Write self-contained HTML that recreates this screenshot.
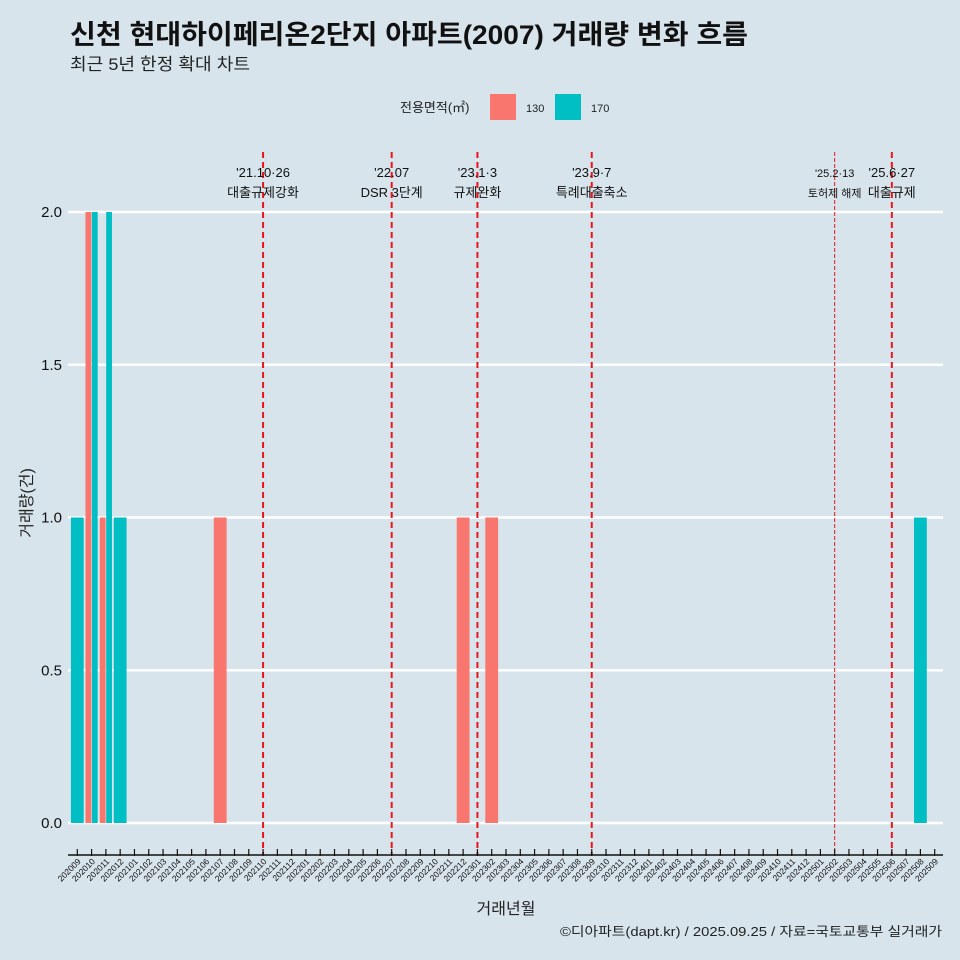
<!DOCTYPE html>
<html><head><meta charset="utf-8"><style>
body{margin:0;background:#d7e4eb;}
svg{display:block;font-family:"Liberation Sans","Noto Sans CJK KR",sans-serif;}
</style></head><body>
<svg id="chart" width="960" height="960" viewBox="0 0 960 960">
<rect width="960" height="960" fill="#d7e4eb"/>
<text x="70" y="44" font-size="27" font-weight="bold" fill="#111" textLength="678" lengthAdjust="spacingAndGlyphs">신천 현대하이페리온2단지 아파트(2007) 거래량 변화 흐름</text>
<text x="70" y="70" font-size="17" fill="#222" textLength="180" lengthAdjust="spacingAndGlyphs">최근 5년 한정 확대 차트</text>
<g>
<text x="400" y="112" font-size="13" fill="#222">전용면적(㎡)</text>
<rect x="490" y="94" width="26" height="26" fill="#f8766d"/>
<text x="526" y="112" font-size="11" fill="#222">130</text>
<rect x="555" y="94" width="26" height="26" fill="#00bfc4"/>
<text x="591" y="112" font-size="11" fill="#222">170</text>
</g>
<g id="grid"></g><g id="bars"></g><g id="events"></g><g id="axis"></g>
<text x="32" y="503" font-size="16" fill="#222" transform="rotate(-90 32 503)" text-anchor="middle">거래량(건)</text>
<text x="506" y="914" font-size="16" fill="#222" text-anchor="middle">거래년월</text>
<text x="942" y="936" font-size="13" fill="#222" text-anchor="end" textLength="382" lengthAdjust="spacingAndGlyphs">©디아파트(dapt.kr) / 2025.09.25 / 자료=국토교통부 실거래가</text>
</svg>
<script>
const months=[];for(let y=2020,m=9;y<2025||(y===2025&&m<=9);){months.push(''+y+String(m).padStart(2,'0'));m++;if(m>12){m=1;y++;}}
const sizes=['130','170'];
const barMonths=['202009','202010','202010','202011','202011','202012','202107','202212','202302','202508'];
const barSizes=['170','130','170','130','170','170','130','130','130','170'];
const barValues=[1,2,2,1,2,1,1,1,1,1];
const yTicks=[0,0.5,1,1.5,2];
const yTickLabels=['0.0','0.5','1.0','1.5','2.0'];
const eventMonths=['202110','202207','202301','202309','202502','202506'];
const eventDates=["'21.10·26","'22.07","'23.1·3","'23.9·7","'25.2·13","'25.6·27"];
const eventLabels=['대출규제강화','DSR 3단계','규제완화','특례대출축소','토허제 해제','대출규제'];
const NS='http://www.w3.org/2000/svg';
const x0=77.3,step=14.29,bw=12.8;
const xS=m=>x0+months.indexOf(m)*step;
const yS=v=>823-v*305.5;
function mk(tag,attrs,parent){const e=document.createElementNS(NS,tag);for(const k in attrs)e.setAttribute(k,attrs[k]);parent.appendChild(e);return e;}
const grid=document.getElementById('grid'),bars=document.getElementById('bars'),ev=document.getElementById('events'),ax=document.getElementById('axis');
yTicks.forEach((t,i)=>{
 const l=mk('line',{x1:68,x2:943,y1:yS(t),y2:yS(t),stroke:'#fff','stroke-width':2.4},grid);
 
 
 const tx=mk('text',{x:62,y:yS(t)+5,'font-size':15,fill:'#111','text-anchor':'end'},grid);
 tx.textContent=yTickLabels[i];
 
 
});
barMonths.forEach((m,i)=>{
 const same=barMonths.filter(b=>b===m).length;
 const w=same>1?bw/2:bw;
 const off=same>1?(sizes.indexOf(barSizes[i])===0?-bw/2:0):-bw/2;
 const r=mk('rect',{x:xS(m)+off+(same>1?0.3:0),y:yS(barValues[i]),width:w-(same>1?0.6:0),height:yS(0)-yS(barValues[i]),fill:barSizes[i]==='130'?'#f8766d':'#00bfc4'},bars);
 
 
});
eventMonths.forEach((m,i)=>{
 const x=xS(m);const thin=m==='202502';
 const l=mk('line',{x1:x,x2:x,y1:152,y2:855,stroke:'#e8161b','stroke-width':thin?1:2,'stroke-dasharray':thin?'4,2':'6,4'},ev);
 
 
 const fs=thin?11:13;
 const t1=mk('text',{x:x,y:177,'font-size':fs,fill:'#111','text-anchor':'middle'},ev);t1.textContent=eventDates[i];
 
 
 const t2=mk('text',{x:x,y:197,'font-size':fs,fill:'#111','text-anchor':'middle'},ev);t2.textContent=eventLabels[i];
 
 
});
const al=mk('line',{x1:68,x2:943,y1:855,y2:855,stroke:'#111','stroke-width':1.5},ax);


months.forEach(m=>{
 const x=xS(m);
 const tk=mk('line',{x1:x,x2:x,y1:849,y2:856,stroke:'#111','stroke-width':1.2},ax);
 
 
 const t=mk('text',{x:x+4,y:862,'font-size':8.5,fill:'#111','text-anchor':'end',transform:`rotate(-45 ${x+4} 862)`},ax);
 t.textContent=m;
 
 
});
</script>
</body></html>
